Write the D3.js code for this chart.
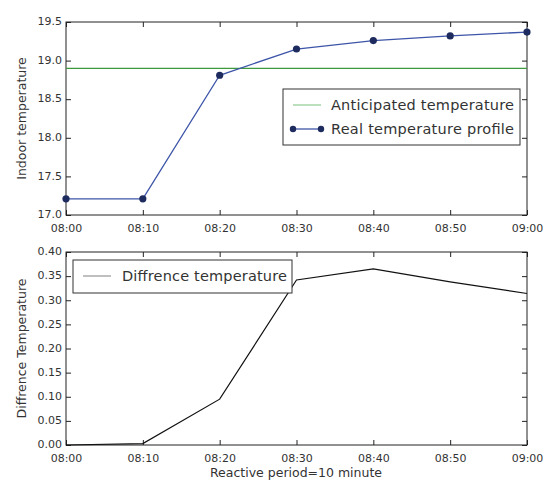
<!DOCTYPE html>
<html><head><meta charset="utf-8">
<script src="https://cdn.jsdelivr.net/npm/d3@7"></script>
<style>body{margin:0;background:#fff;} text{font-family:"DejaVu Sans",sans-serif;}</style>
</head><body><svg id="c" width="549" height="487"></svg>
<script>
const times = ["08:00","08:10","08:20","08:30","08:40","08:50","09:00"];
const anticipated = [18.9,18.9,18.9,18.9,18.9,18.9,18.9];
const realTemp = [17.21,17.21,18.81,19.15,19.26,19.32,19.37];
const diffTemp = [0.0,0.003,0.095,0.342,0.365,0.338,0.314];
const topTicks = [17.0,17.5,18.0,18.5,19.0,19.5];
const botTicks = [0.00,0.05,0.10,0.15,0.20,0.25,0.30,0.35,0.40];

const svg = d3.select("#c");
const L = 66, R = 527;
const x = d3.scalePoint().domain(times).range([L, R]);
const TF = 11;

function panel(top, bottom, domain, ticks, fmt, ylabel) {
  const y = d3.scaleLinear().domain(domain).range([bottom, top]);
  const g = svg.append("g");
  g.append("rect").attr("x", L).attr("y", top).attr("width", R - L).attr("height", bottom - top)
    .attr("fill", "none").attr("stroke", "#222").attr("stroke-width", 1);
  const ax = d3.axisBottom(x).tickSize(-5).tickPadding(9);
  g.append("g").attr("transform", `translate(0,${bottom})`).call(ax).call(s => {
    s.select(".domain").remove();
    s.selectAll("text").attr("font-size", TF).attr("fill", "#333");
    s.selectAll("line").attr("stroke", "#222");
  });
  g.append("g").attr("transform", `translate(0,${top})`).call(d3.axisTop(x).tickSize(-5).tickFormat("")).call(s => {
    s.select(".domain").remove(); s.selectAll("line").attr("stroke", "#222");
  });
  g.append("g").attr("transform", `translate(${L},0)`).call(d3.axisLeft(y).tickValues(ticks).tickFormat(fmt).tickSize(-5).tickPadding(4)).call(s => {
    s.select(".domain").remove();
    s.selectAll("text").attr("font-size", TF).attr("fill", "#333").attr("dy", "0.25em");
    s.selectAll("line").attr("stroke", "#222");
  });
  g.append("g").attr("transform", `translate(${R},0)`).call(d3.axisRight(y).tickValues(ticks).tickFormat("").tickSize(-5)).call(s => {
    s.select(".domain").remove(); s.selectAll("line").attr("stroke", "#222");
  });
  svg.append("text").attr("transform", `translate(26,${(top + bottom) / 2}) rotate(-90)`)
    .attr("text-anchor", "middle").attr("font-size", 12.5).attr("fill", "#333").text(ylabel);
  return y;
}

const y1 = panel(22, 215, [17.0, 19.5], topTicks, d3.format(".1f"), "Indoor temperature");
const line1 = d3.line().x((d, i) => x(times[i])).y(d => y1(d));
svg.append("path").datum(anticipated).attr("d", line1).attr("fill", "none").attr("stroke", "#3c9a3c").attr("stroke-width", 1.2);
svg.append("path").datum(realTemp).attr("d", line1).attr("fill", "none").attr("stroke", "#3d55a8").attr("stroke-width", 1.3);
svg.selectAll(".pt").data(realTemp).enter().append("circle")
  .attr("cx", (d, i) => x(times[i])).attr("cy", d => y1(d)).attr("r", 3.6).attr("fill", "#1e2b5e");

const LF = 14.5;
const lg1 = svg.append("g").attr("transform", "translate(283,89)");
lg1.append("rect").attr("width", 237).attr("height", 56).attr("fill", "#fff").attr("stroke", "#333").attr("stroke-width", 1);
lg1.append("line").attr("x1", 10).attr("x2", 38).attr("y1", 16).attr("y2", 16).attr("stroke", "#8fca8f").attr("stroke-width", 1.2);
lg1.append("text").attr("x", 48).attr("y", 21).attr("font-size", LF).attr("textLength", 183).attr("fill", "#333").text("Anticipated temperature");
lg1.append("line").attr("x1", 10).attr("x2", 38).attr("y1", 40).attr("y2", 40).attr("stroke", "#3d55a8").attr("stroke-width", 1.3);
lg1.selectAll(".m").data([10, 38]).enter().append("circle").attr("cx", d => d).attr("cy", 40).attr("r", 3.2).attr("fill", "#1e2b5e");
lg1.append("text").attr("x", 48).attr("y", 45).attr("font-size", LF).attr("textLength", 183).attr("fill", "#333").text("Real temperature profile");

const y2 = panel(252, 445, [0, 0.4], botTicks, d3.format(".2f"), "Diffrence Temperature");
const line2 = d3.line().x((d, i) => x(times[i])).y(d => y2(d));
svg.append("path").datum(diffTemp).attr("d", line2).attr("fill", "none").attr("stroke", "#111").attr("stroke-width", 1.2);

const lg2 = svg.append("g").attr("transform", "translate(73,260)");
lg2.append("rect").attr("width", 219).attr("height", 33).attr("fill", "#fff").attr("stroke", "#333").attr("stroke-width", 1);
lg2.append("line").attr("x1", 10).attr("x2", 38).attr("y1", 16).attr("y2", 16).attr("stroke", "#aaa").attr("stroke-width", 1.5);
lg2.append("text").attr("x", 49).attr("y", 21).attr("font-size", LF).attr("textLength", 165).attr("fill", "#333").text("Diffrence temperature");

svg.append("text").attr("x", 296).attr("y", 477).attr("text-anchor", "middle").attr("font-size", 12.5).attr("fill", "#333").text("Reactive period=10 minute");
</script></body></html>
